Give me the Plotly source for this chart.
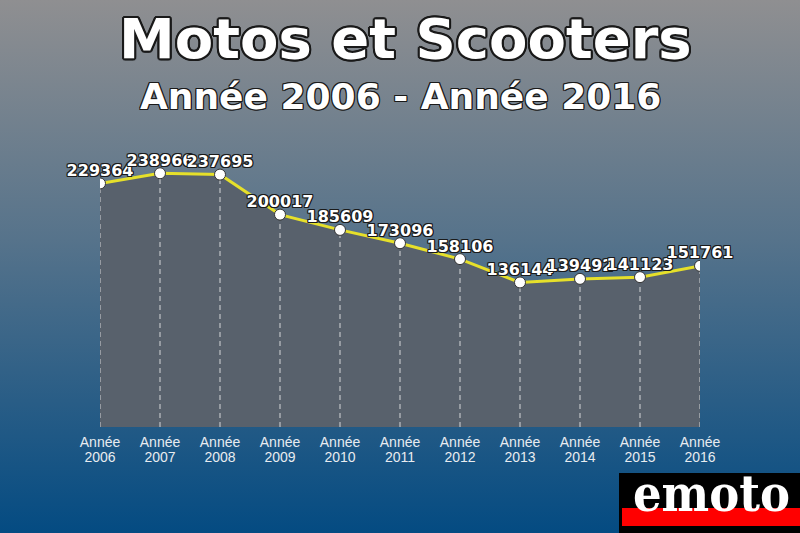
import plotly.graph_objects as go
import base64

years = [2006, 2007, 2008, 2009, 2010, 2011, 2012, 2013, 2014, 2015, 2016]
values = [229364, 238966, 237695, 200017, 185609, 173096, 158106, 136144, 139492, 141123, 151761]
tick_word = ["Année"] * len(years)
tick_years = [str(y) for y in years]
title_text = "Motos et Scooters"
subtitle_text = "Année 2006 - Année 2016"

W, H = 800, 533
L, R, T, B = 100, 100, 130, 106
PW, PH = W - L - R, H - T - B

def px(x):
    return (x - L) / PW

def py(y):
    return (H - B - y) / PH

svg = f"""<svg xmlns='http://www.w3.org/2000/svg' width='{W}' height='{H}' preserveAspectRatio='none'>
<defs><linearGradient id='g' x1='0' y1='0' x2='0' y2='1'>
<stop offset='0' stop-color='#8f8f91'/>
<stop offset='0.45' stop-color='#56738b'/>
<stop offset='1' stop-color='#044b82'/>
</linearGradient></defs>
<rect x='0' y='0' width='{W}' height='{H}' fill='url(#g)'/></svg>"""
bg_src = "data:image/svg+xml;base64," + base64.b64encode(svg.encode()).decode()

oc = "#1a1a1a"
outline = ", ".join(f"{a}px {b}px 0 {oc}" for a in (-1, 0, 1) for b in (-1, 0, 1) if (a, b) != (0, 0))
outline_big = ", ".join(f"{a}px {b}px 0 {oc}" for a in (-2, -1, 0, 1, 2) for b in (-2, -1, 0, 1, 2)
                        if (a, b) != (0, 0) and abs(a) + abs(b) <= 3)

fig = go.Figure()

# area fill
fig.add_trace(go.Scatter(x=years, y=values, mode="none", fill="tozeroy",
                         fillcolor="#58616c", hoverinfo="skip", showlegend=False))

# dashed drop lines
dx, dy = [], []
for yr, v in zip(years, values):
    dx += [yr, yr, None]
    dy += [0, v, None]
fig.add_trace(go.Scatter(x=dx, y=dy, mode="lines",
                         line=dict(color="rgba(235,235,235,0.85)", width=1, dash="5px,4px"),
                         hoverinfo="skip", showlegend=False))

# main line with markers
fig.add_trace(go.Scatter(x=years, y=values, mode="lines+markers",
                         line=dict(color="#e6e02a", width=3),
                         marker=dict(color="white", size=11, line=dict(color="#333333", width=1)),
                         hoverinfo="x+y", showlegend=False))

# value labels (transparent small markers set the label offset)
fig.add_trace(go.Scatter(x=years, y=values, mode="markers+text",
                         marker=dict(size=4, color="rgba(0,0,0,0)"),
                         text=[str(v) for v in values], textposition="top center",
                         textfont=dict(family="DejaVu Sans", size=16, color="white",
                                       weight="bold", shadow=outline),
                         hoverinfo="skip", cliponaxis=False, showlegend=False))

# invisible trace on the second x axis (year line of the tick labels)
fig.add_trace(go.Scatter(x=years, y=values, xaxis="x2", mode="markers",
                         marker=dict(opacity=0), hoverinfo="skip", showlegend=False))

tickfont = dict(family="Liberation Sans", size=14, color="#e8ecf0")

fig.update_layout(
    width=W, height=H,
    margin=dict(l=L, r=R, t=T, b=B),
    paper_bgcolor="#5a7590",
    plot_bgcolor="rgba(0,0,0,0)",
    showlegend=False,
    images=[dict(source=bg_src, xref="paper", yref="paper",
                 x=px(0), y=py(0), sizex=W / PW, sizey=H / PH,
                 xanchor="left", yanchor="top", sizing="stretch", layer="below")],
    xaxis=dict(range=[years[0], years[-1]], tickvals=years, ticktext=tick_word,
               showgrid=False, zeroline=False, showline=False, ticks="",
               tickfont=tickfont, ticklabelstandoff=5, fixedrange=True),
    xaxis2=dict(range=[years[0], years[-1]], tickvals=years, ticktext=tick_years,
                overlaying="x", anchor="y", side="bottom",
                showgrid=False, zeroline=False, showline=False, ticks="",
                tickfont=tickfont, ticklabelstandoff=20, fixedrange=True),
    yaxis=dict(range=[0, 279700], showgrid=False, zeroline=False, showline=False,
               showticklabels=False, ticks="", fixedrange=True),
    shapes=[
        dict(type="rect", xref="paper", yref="paper", x0=px(619), x1=px(800),
             y0=py(533), y1=py(473), fillcolor="black", line=dict(width=0), layer="above"),
        dict(type="rect", xref="paper", yref="paper", x0=px(622), x1=px(800),
             y0=py(526), y1=py(508), fillcolor="#ff0000", line=dict(width=0), layer="above"),
    ],
    annotations=[
        dict(text=title_text, xref="paper", yref="paper", x=px(405), y=py(38),
             xanchor="center", yanchor="middle", showarrow=False,
             font=dict(family="DejaVu Sans", size=56, color="white", weight="bold",
                       shadow=outline_big)),
        dict(text=subtitle_text, xref="paper", yref="paper", x=px(400), y=py(97),
             xanchor="center", yanchor="middle", showarrow=False,
             font=dict(family="DejaVu Sans", size=36, color="white", weight="bold",
                       shadow=outline)),
        dict(text="emoto", xref="paper", yref="paper", x=px(711), y=py(493),
             xanchor="center", yanchor="middle", showarrow=False,
             font=dict(family="DejaVu Serif Condensed, DejaVu Serif", size=50,
                       color="white", weight="bold")),
    ],
)

fig.write_html("out.html", config={"displayModeBar": False},
               post_script="document.body.style.margin='0';")
